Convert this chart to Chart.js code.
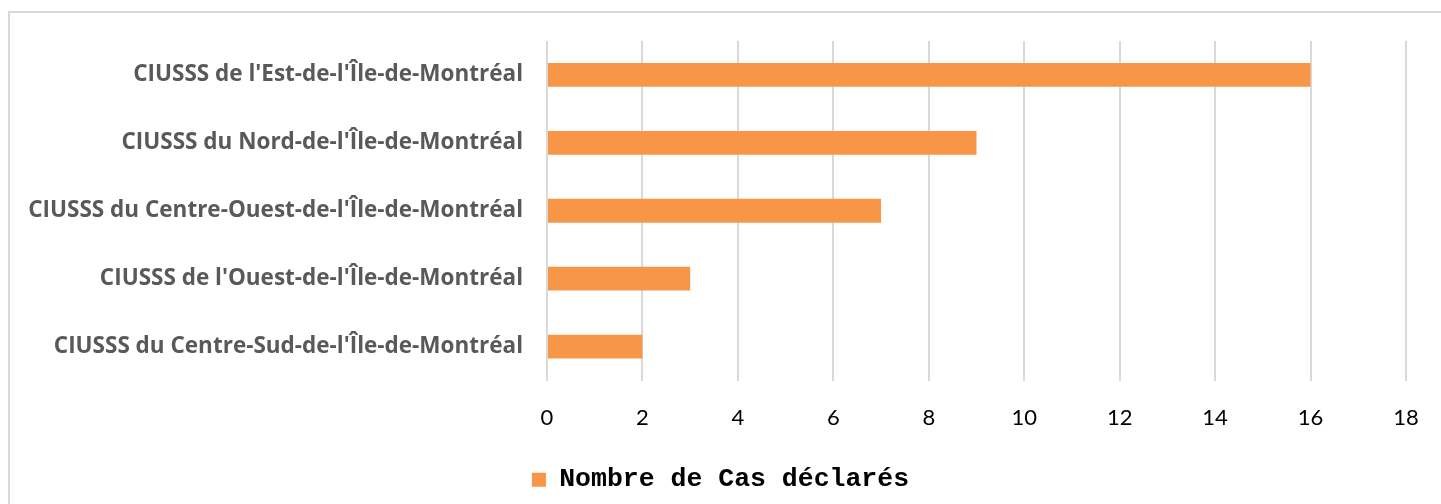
<!DOCTYPE html>
<html>
<head>
<meta charset="utf-8">
<script src="https://cdn.jsdelivr.net/npm/chart.js@4/dist/chart.umd.min.js"></script>
<style>
  html, body { margin: 0; padding: 0; background: #fff; overflow: hidden; }
  #wrap { position: relative; width: 1441px; height: 504px; }
  #frame { position: absolute; left: 8px; top: 11px; width: 1500px; height: 600px;
           border-left: 2px solid #d9d9d9; border-top: 2px solid #d9d9d9; }
  canvas { position: absolute; left: 0; top: 0; }
</style>
</head>
<body>
<div id="wrap">
  <div id="frame"></div>
  <canvas id="c" width="1441" height="504"></canvas>
</div>
<script>
const categories = [
  "CIUSSS de l'Est-de-l'Île-de-Montréal",
  "CIUSSS du Nord-de-l'Île-de-Montréal",
  "CIUSSS du Centre-Ouest-de-l'Île-de-Montréal",
  "CIUSSS de l'Ouest-de-l'Île-de-Montréal",
  "CIUSSS du Centre-Sud-de-l'Île-de-Montréal"
];
const cases = [16, 9, 7, 3, 2];
const seriesName = "Nombre de Cas déclarés";
const xMin = 0, xMax = 18, xStep = 2;

new Chart(document.getElementById('c'), {
  type: 'bar',
  data: {
    labels: categories,
    datasets: [{
      label: seriesName,
      data: cases,
      backgroundColor: '#F79646',
      borderWidth: 0,
      categoryPercentage: 1,
      barPercentage: 0.35
    }]
  },
  options: {
    indexAxis: 'y',
    responsive: false,
    animation: false,
    layout: { padding: { top: 41, right: 20, left: 20, bottom: 1 } },
    plugins: {
      tooltip: { enabled: false },
      legend: {
        position: 'bottom',
        labels: {
          boxWidth: 14, boxHeight: 14,
          color: '#000',
          padding: 10,
          font: { family: '"Liberation Mono", "DejaVu Sans Mono", monospace', size: 26.5, weight: 'bold' }
        }
      }
    },
    scales: {
      x: {
        min: xMin, max: xMax,
        ticks: { stepSize: xStep, color: '#000', padding: 24,
                 font: { family: 'Lato, "Open Sans", sans-serif', size: 22 } },
        grid: { color: '#d9d9d9', lineWidth: 2, drawTicks: false },
        border: { display: false },
        afterFit: s => { s.height = 76; s.paddingLeft = 0; s.paddingRight = 35; }
      },
      y: {
        ticks: { color: '#595959', padding: 24,
                 font: { family: '"Open Sans", Lato, sans-serif', size: 22.5, weight: 'bold' } },
        grid: { display: false, drawTicks: false },
        border: { display: false },
        afterFit: s => { s.width = 527; }
      }
    }
  }
});
</script>
</body>
</html>
